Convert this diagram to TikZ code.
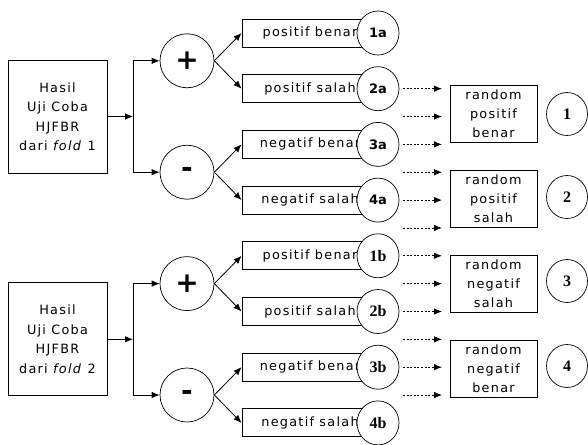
\documentclass[tikz,border=0pt]{standalone}
\usepackage{fontspec}
\setmainfont{DejaVu Sans}[LetterSpace=10]
\newfontfamily\lblsans{DejaVu Sans}
\newfontfamily\lblserif{Liberation Serif}
\usetikzlibrary{arrows.meta,shapes.geometric}

\tikzset{
  every node/.style={font=\fontsize{12.8}{19.5}\selectfont},
  srcbox/.style={draw, line width=0.9pt, minimum width=99, minimum height=113,
    align=center, inner sep=0pt},
  sign/.style={circle, draw, line width=0.7pt, fill=white, minimum size=54,
    inner sep=0pt, font=\lblsans\fontsize{28}{28}\selectfont\bfseries},
  resbox/.style={draw, line width=0.9pt, fill=white, minimum width=136,
    minimum height=28, inner sep=0pt},
  tag/.style={ellipse, draw, line width=0.7pt, fill=white, minimum width=42,
    minimum height=44, inner sep=0pt},
  tagA/.style={tag, font=\lblsans\fontsize{13}{13}\selectfont\bfseries},
  tagB/.style={tag, font=\lblserif\fontsize{16}{16}\selectfont\bfseries},
  randbox/.style={draw, line width=0.9pt, minimum width=87, minimum height=57,
    align=center, inner sep=0pt, font=\fontsize{12.8}{19}\selectfont},
  numc/.style={ellipse, draw, line width=0.7pt, minimum width=41,
    minimum height=43, inner sep=0pt,
    font=\lblserif\fontsize{16}{16}\selectfont\bfseries},
  arr/.style={line width=0.8pt, -{Latex[length=8pt,width=6.5pt]}},
  dotarr/.style={arr, dash pattern=on 2pt off 1.6pt},
}

\begin{document}
\begin{tikzpicture}[x=1pt,y=-1pt]
\useasboundingbox (0,0) rectangle (588,444);

% ---- first fold ----
\node[srcbox] (srcA) at (57.5,116.5) {Hasil\\Uji Coba\\HJFBR\\dari \textit{fold} 1};
\coordinate (jA) at (133,116.5);
\node[sign] (plusA) at (187,60.8) {+};
\node[sign] (minusA) at (187,172.2) {-};

\node[resbox] (r1a) at (310,33.0) {positif benar};
\node[resbox] (r2a) at (310,88.7) {positif salah};
\node[resbox] (r3a) at (310,144.4) {negatif benar};
\node[resbox] (r4a) at (310,200.1) {negatif salah};
\node[tagA] (t1a) at (378,33.0) {1a};
\node[tagA] (t2a) at (378,88.7) {2a};
\node[tagA] (t3a) at (378,144.4) {3a};
\node[tagA] (t4a) at (378,200.1) {4a};

\draw[arr] (srcA.east) -- (jA);
\draw[arr] (jA) |- (plusA.west);
\draw[arr] (jA) |- (minusA.west);
\draw[arr] (plusA.east) -- (r1a.west);
\draw[arr] (plusA.east) -- (r2a.west);
\draw[arr] (minusA.east) -- (r3a.west);
\draw[arr] (minusA.east) -- (r4a.west);

% ---- second fold ----
\node[srcbox] (srcB) at (57.5,339.3) {Hasil\\Uji Coba\\HJFBR\\dari \textit{fold} 2};
\coordinate (jB) at (133,339.3);
\node[sign] (plusB) at (187,283.6) {+};
\node[sign] (minusB) at (187,395.0) {-};

\node[resbox] (r1b) at (310,255.8) {positif benar};
\node[resbox] (r2b) at (310,311.5) {positif salah};
\node[resbox] (r3b) at (310,367.2) {negatif benar};
\node[resbox] (r4b) at (310,422.9) {negatif salah};
\node[tagB] (t1b) at (378,255.8) {1b};
\node[tagB] (t2b) at (378,311.5) {2b};
\node[tagB] (t3b) at (378,367.2) {3b};
\node[tagB] (t4b) at (378,422.9) {4b};

\draw[arr] (srcB.east) -- (jB);
\draw[arr] (jB) |- (plusB.west);
\draw[arr] (jB) |- (minusB.west);
\draw[arr] (plusB.east) -- (r1b.west);
\draw[arr] (plusB.east) -- (r2b.west);
\draw[arr] (minusB.east) -- (r3b.west);
\draw[arr] (minusB.east) -- (r4b.west);

% ---- dotted feeds ----
\foreach \i in {0,...,11} {
  \coordinate (ds\i) at (403,88.7+27.85*\i);
  \coordinate (de\i) at (442,88.7+27.85*\i);
  \draw[dotarr] (ds\i) -- (de\i);
}

% ---- random samples ----
\node[randbox] (rand1) at (493.5,113.5) {random\\positif\\benar};
\node[randbox] (rand2) at (493.5,199.0) {random\\positif\\salah};
\node[randbox] (rand3) at (493.5,283.5) {random\\negatif\\salah};
\node[randbox] (rand4) at (493.5,369.0) {random\\negatif\\benar};
\node[numc] (n1) at (567,114) {1};
\node[numc] (n2) at (567,197) {2};
\node[numc] (n3) at (567,281) {3};
\node[numc] (n4) at (567,366) {4};
\end{tikzpicture}
\end{document}
